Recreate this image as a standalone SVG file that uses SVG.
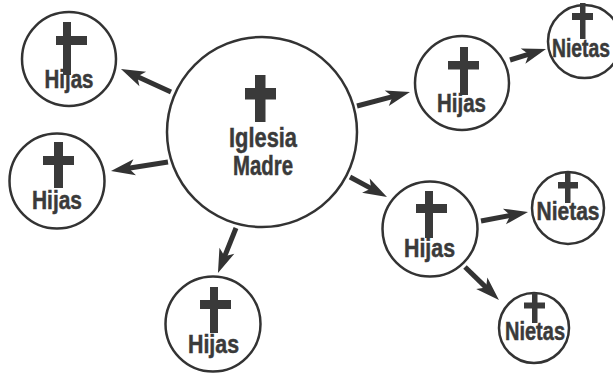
<svg xmlns="http://www.w3.org/2000/svg" width="613" height="373" viewBox="0 0 613 373">
<style>
.c{fill:#fff;stroke:#333;stroke-width:2.5}
.x{fill:#3a3a3a}
.t{font-family:"Liberation Sans",Arial,sans-serif;font-weight:bold;fill:#3a3a3a;stroke:#3a3a3a;stroke-width:0.5;text-anchor:middle}
.h{font-size:26px}
.n{font-size:26px}
.m{font-size:28px}
.a{stroke:#333;stroke-width:5;fill:none;marker-end:url(#ah)}
</style>
<defs>
<marker id="ah" markerUnits="userSpaceOnUse" viewBox="-10 -10 30 20" markerWidth="30" markerHeight="20" refX="0" refY="0" orient="auto" overflow="visible">
<path d="M16,0 L-8,-8 L-2,0 L-8,8 Z" fill="#333"/>
</marker>
</defs>
<rect width="613" height="373" fill="#fff"/>
<g id="connectors">
<line class="a" x1="171" y1="92" x2="135.5" y2="75.7"/>
<line class="a" x1="168" y1="162" x2="126.8" y2="168.5"/>
<line class="a" x1="236" y1="228" x2="223.9" y2="258.2"/>
<line class="a" x1="357" y1="106" x2="394.5" y2="96.1"/>
<line class="a" x1="510" y1="60" x2="530.7" y2="53.7"/>
<line class="a" x1="350" y1="177" x2="372.9" y2="189.4"/>
<line class="a" x1="481" y1="221" x2="512.3" y2="215"/>
<line class="a" x1="465" y1="267" x2="487.5" y2="288.9"/>
</g>
<g id="madre">
<circle class="c" cx="262" cy="132" r="95"/>
<rect class="x" x="255" y="75" width="10.5" height="47"/>
<rect class="x" x="245" y="88" width="31" height="11.5"/>
<text class="t m" x="263" y="147" textLength="68" lengthAdjust="spacingAndGlyphs">Iglesia</text>
<text class="t m" x="263" y="175" textLength="60" lengthAdjust="spacingAndGlyphs">Madre</text>
</g>
<g id="hijas1">
<circle class="c" cx="69" cy="59" r="47"/>
<rect class="x" x="63" y="22" width="8" height="53"/>
<rect class="x" x="56" y="36" width="31" height="9"/>
<text class="t h" x="69" y="88" textLength="49" lengthAdjust="spacingAndGlyphs">Hijas</text>
</g>
<g id="hijas2">
<circle class="c" cx="57" cy="181" r="47.5"/>
<rect class="x" x="54" y="142" width="9" height="46"/>
<rect class="x" x="43" y="156" width="31" height="9"/>
<text class="t h" x="57" y="209" textLength="50" lengthAdjust="spacingAndGlyphs">Hijas</text>
</g>
<g id="hijas3">
<circle class="c" cx="213" cy="324" r="47.5"/>
<rect class="x" x="210" y="287" width="8" height="46"/>
<rect class="x" x="200" y="300" width="31" height="9"/>
<text class="t h" x="213.5" y="353" textLength="51" lengthAdjust="spacingAndGlyphs">Hijas</text>
</g>
<g id="hijas4">
<circle class="c" cx="462" cy="83" r="47"/>
<rect class="x" x="460" y="47" width="8" height="48"/>
<rect class="x" x="448" y="61" width="31" height="8.5"/>
<text class="t h" x="461.5" y="112" textLength="49" lengthAdjust="spacingAndGlyphs">Hijas</text>
</g>
<g id="hijas5">
<circle class="c" cx="430" cy="229" r="47.5"/>
<rect class="x" x="425" y="191" width="8" height="47"/>
<rect class="x" x="416" y="204" width="31" height="9"/>
<text class="t h" x="429.5" y="257" textLength="51" lengthAdjust="spacingAndGlyphs">Hijas</text>
</g>
<g id="nietas1">
<circle class="c" cx="584.5" cy="41.5" r="36.5"/>
<rect class="x" x="580" y="3" width="5.5" height="36"/>
<rect class="x" x="572" y="13" width="21" height="7"/>
<text class="t n" x="581" y="57" textLength="58" lengthAdjust="spacingAndGlyphs">Nietas</text>
</g>
<g id="nietas2">
<circle class="c" cx="568" cy="208" r="36"/>
<rect class="x" x="565" y="173" width="5.5" height="30"/>
<rect class="x" x="558" y="182" width="20" height="6.5"/>
<text class="t n" x="568" y="220" textLength="63" lengthAdjust="spacingAndGlyphs">Nietas</text>
</g>
<g id="nietas3">
<circle class="c" cx="534" cy="328" r="35"/>
<rect class="x" x="532" y="293" width="5.5" height="30"/>
<rect class="x" x="524" y="302.5" width="21" height="6"/>
<text class="t n" x="535" y="340" textLength="60" lengthAdjust="spacingAndGlyphs">Nietas</text>
</g>
</svg>
